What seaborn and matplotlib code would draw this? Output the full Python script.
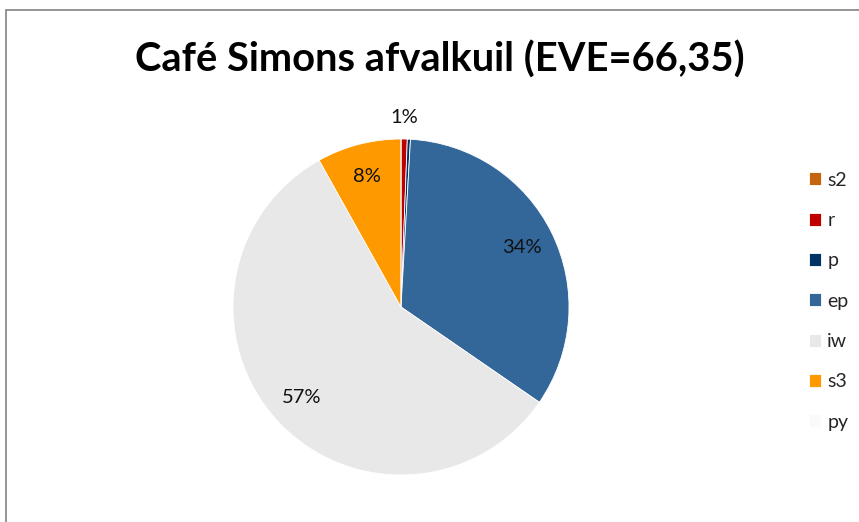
import matplotlib
matplotlib.use("Agg")
import matplotlib.pyplot as plt
from matplotlib.patches import Rectangle
import numpy as np
import seaborn as sns

# Waste composition of the Café Simons pit (percent share per category)
categories = ["s2", "r", "p", "ep", "iw", "s3", "py"]
shares = [0.0, 0.6, 0.3, 33.7, 57.3, 8.1, 0.0]
colors = ["#C5640F", "#C00000", "#003366", "#336699", "#E8E8E8", "#FF9900", "#FAFAFA"]
title = "Café Simons afvalkuil (EVE=66,35)"

sns.set_theme(style="white")
plt.rcParams["font.family"] = ["Lato", "DejaVu Sans"]
palette = sns.color_palette(colors)

fig = plt.figure(figsize=(8.59, 5.22), dpi=100)
fig.patch.set_facecolor("white")

# outer chart frame (only top and left edges fall inside the canvas)
fig.add_artist(Rectangle((6 / 859, -0.1), 1.2, (522 - 10) / 522 + 0.1,
                         transform=fig.transFigure, fill=False,
                         edgecolor="#8C8C8C", linewidth=1.3))

cx, cy, r = 401, 307, 168
ax = fig.add_axes([(cx - r) / 859, (522 - cy - r) / 522, 2 * r / 859, 2 * r / 522])


def fmt(pct):
    return f"{pct:.0f}%" if pct >= 0.5 else ""


wedges, texts, autotexts = ax.pie(
    shares, colors=palette, startangle=90, counterclock=False,
    autopct=fmt, pctdistance=0.8,
    wedgeprops=dict(edgecolor="white", linewidth=0.6),
    textprops=dict(fontsize=14.5, color="#111111"),
)

# small slices get their label just outside the rim
for w, t, s in zip(wedges, autotexts, shares):
    if 0.5 <= s < 3:
        ang = np.deg2rad((w.theta1 + w.theta2) / 2)
        t.set_position((1.13 * np.cos(ang), 1.13 * np.sin(ang)))

ax.set_xlim(-1, 1)
ax.set_ylim(-1, 1)
ax.set_axis_off()

fig.text(440 / 859, 1 - 60 / 522, title, ha="center", va="center",
         fontsize=28.7, fontweight="bold", color="black")

fig.legend(wedges, categories, loc="upper left",
           bbox_to_anchor=(801 / 859, 1 - 164 / 522),
           frameon=False, fontsize=14, handlelength=0.65, handleheight=0.65,
           handletextpad=0.3, labelspacing=1.2, borderaxespad=0)

fig.savefig("out.png", dpi=100)
